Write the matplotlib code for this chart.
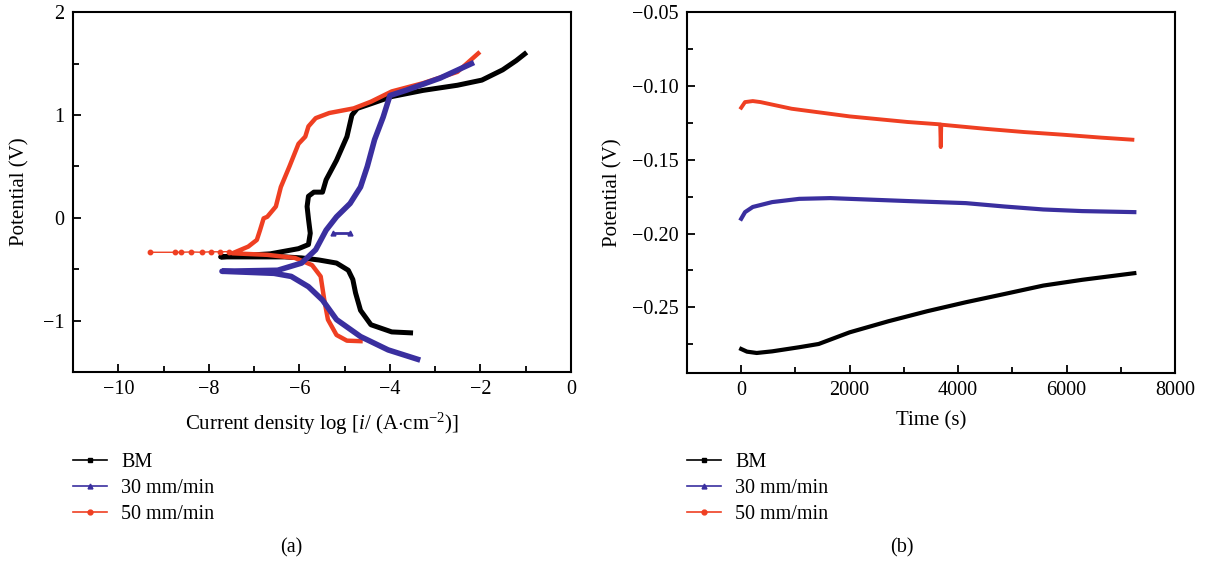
import matplotlib
matplotlib.use("Agg")
import matplotlib.pyplot as plt
from matplotlib.lines import Line2D
from matplotlib.ticker import MultipleLocator, FuncFormatter

plt.rcParams['font.family'] = ['Liberation Serif', 'DejaVu Serif']
plt.rcParams['mathtext.fontset'] = 'custom'
plt.rcParams['mathtext.rm'] = 'Liberation Serif'
plt.rcParams['mathtext.it'] = 'Liberation Serif:italic'
plt.rcParams['font.size'] = 14

labels = ['BM', '30 mm/min', '50 mm/min']
colors = ['#000000', '#3a2f9f', '#ef3f22']
markers = ['s', '^', 'o']

# (a) potentiodynamic polarization: log current density vs potential
bm_logi = [-3.49, -3.96, -4.42, -4.65, -4.76, -4.82, -4.92, -5.18, -5.57, -5.95, -6.33, -6.71, -7.74,
           -6.64, -6.02, -5.80, -5.76, -5.80, -5.83, -5.80, -5.68, -5.49, -5.41, -5.18, -4.95, -4.84,
           -4.72, -4.42, -3.96, -3.27, -2.51, -1.97, -1.51, -1.21, -0.98]
bm_e = [-1.12, -1.11, -1.04, -0.90, -0.73, -0.60, -0.51, -0.44, -0.41, -0.39, -0.38, -0.38, -0.38,
        -0.35, -0.30, -0.26, -0.15, -0.01, 0.11, 0.21, 0.25, 0.25, 0.37, 0.56, 0.79, 1.00,
        1.065, 1.11, 1.18, 1.24, 1.29, 1.34, 1.44, 1.53, 1.61]

w30_logi = [-3.39, -4.04, -4.65, -5.18, -5.49, -5.80, -6.18, -6.56, -7.71,
            -6.48, -5.95, -5.64, -5.41, -5.18, -4.88, -4.65, -4.50, -4.34, -4.15, -4.00,
            -3.65, -2.89, -2.20]
w30_e = [-1.376, -1.285, -1.155, -0.99, -0.80, -0.67, -0.57, -0.54, -0.52,
         -0.51, -0.44, -0.31, -0.12, 0.01, 0.14, 0.30, 0.50, 0.76, 0.98, 1.19,
         1.24, 1.36, 1.50]
w30_spur_logi = [-5.25, -4.88]
w30_spur_e = [-0.15, -0.15]

w50_logi = [-4.65, -4.95, -5.18, -5.37, -5.45, -5.53, -5.72, -6.10, -6.71, -7.48,
            -7.13, -6.94, -6.87, -6.79, -6.71, -6.52, -6.41, -6.22, -6.02, -5.87, -5.80,
            -5.64, -5.34, -4.80, -4.42, -3.96, -3.27, -2.51, -2.05]
w50_e = [-1.20, -1.195, -1.14, -0.99, -0.80, -0.57, -0.46, -0.39, -0.36, -0.345,
         -0.28, -0.215, -0.12, -0.005, 0.01, 0.11, 0.30, 0.50, 0.72, 0.79, 0.89,
         0.97, 1.02, 1.065, 1.13, 1.23, 1.31, 1.42, 1.60]
w50_tail_logi = [-9.30, -8.74, -8.62, -8.40, -8.15, -7.95, -7.75, -7.55]
w50_tail_e = [-0.335, -0.335, -0.335, -0.332, -0.335, -0.330, -0.331, -0.328]

# (b) open circuit potential vs time
bm_t = [0, 107, 286, 571, 1071, 1429, 2000, 2714, 3429, 4143, 4857, 5571, 6286, 7250]
bm_ocp = [-0.2783, -0.2801, -0.2810, -0.2799, -0.2771, -0.2749, -0.2670, -0.2595, -0.2527,
          -0.2466, -0.2410, -0.2353, -0.2314, -0.2269]
w30_t = [0, 71, 214, 571, 1071, 1643, 2357, 3071, 4143, 4857, 5571, 6286, 7250]
w30_ocp = [-0.1900, -0.1855, -0.1820, -0.1787, -0.1765, -0.1760, -0.1770, -0.1780, -0.1794,
           -0.1817, -0.1837, -0.1848, -0.1855]
w50_t = [0, 70, 214, 357, 929, 2000, 3071, 3670, 3680, 3690, 4500, 5214, 5929, 6643, 7214]
w50_ocp = [-0.1147, -0.1109, -0.1102, -0.1109, -0.1154, -0.1206, -0.1244, -0.1260, -0.1414,
           -0.1262, -0.1290, -0.1312, -0.1330, -0.1350, -0.1364]

fig = plt.figure(figsize=(12.05, 5.71), dpi=100)
ax1 = fig.add_axes([0.0606, 0.3485, 0.4133, 0.6300])
ax2 = fig.add_axes([0.5701, 0.3467, 0.4050, 0.6318])

ax1.plot(bm_logi, bm_e, color=colors[0], lw=3.6, solid_capstyle='butt')
ax1.plot(w50_tail_logi, w50_tail_e, color=colors[2], lw=1.0, marker='o', ms=3.2)
ax1.plot(w50_logi, w50_e, color=colors[2], lw=3.2)
ax1.plot(w30_logi, w30_e, color=colors[1], lw=4.0)
ax1.plot(w30_spur_logi, w30_spur_e, color=colors[1], lw=2.0, marker='^', ms=3.5)

ax1.set_xlim(-11, 0)
ax1.set_ylim(-1.5, 2)
ax1.xaxis.set_major_locator(MultipleLocator(2))
ax1.xaxis.set_minor_locator(MultipleLocator(1))
ax1.yaxis.set_major_locator(MultipleLocator(1))
ax1.yaxis.set_minor_locator(MultipleLocator(0.5))
ax1.set_xlabel(r'Current density log [$\mathit{i}$/ (A$\cdot$cm$^{-2}$)]', fontsize=15, labelpad=8)
ax1.set_ylabel('Potential (V)', fontsize=15, labelpad=10)

ax2.plot(bm_t, bm_ocp, color=colors[0], lw=3.0)
ax2.plot(w30_t, w30_ocp, color=colors[1], lw=3.0)
ax2.plot(w50_t, w50_ocp, color=colors[2], lw=2.8)

ax2.set_xlim(-1000, 8000)
ax2.set_ylim(-0.2946, -0.05)
ax2.xaxis.set_major_locator(MultipleLocator(2000))
ax2.xaxis.set_minor_locator(MultipleLocator(1000))
ax2.yaxis.set_major_locator(MultipleLocator(0.05))
ax2.yaxis.set_minor_locator(MultipleLocator(0.025))
ax2.yaxis.set_major_formatter(FuncFormatter(lambda v, p: f'{v:.2f}'.replace('-', '\u2212')))
ax2.set_xlabel('Time (s)', fontsize=15, labelpad=8)
ax2.set_ylabel('Potential (V)', fontsize=15, labelpad=7)

for ax in (ax1, ax2):
    for s in ax.spines.values():
        s.set_linewidth(1.5)
    ax.tick_params(which='both', direction='in', top=False, right=False, width=1.3, labelsize=14.5, pad=6)
    ax.tick_params(which='major', length=6)
    ax.tick_params(which='minor', length=4)

handles = [Line2D([], [], color=c, lw=1.2, marker=m, ms=3.5) for c, m in zip(colors, markers)]
for x0 in (0.0606, 0.5701):
    fig.legend(handles, labels, loc='upper left', bbox_to_anchor=(x0, 0.206), frameon=False,
               borderpad=0, borderaxespad=0, handlelength=1.7, handletextpad=0.7, labelspacing=0.32,
               fontsize=14.5)

fig.text(0.2415, 0.040, '(a)', ha='center', va='center', fontsize=14.5)
fig.text(0.7485, 0.040, '(b)', ha='center', va='center', fontsize=14.5)

fig.savefig('out.png', dpi=100)
